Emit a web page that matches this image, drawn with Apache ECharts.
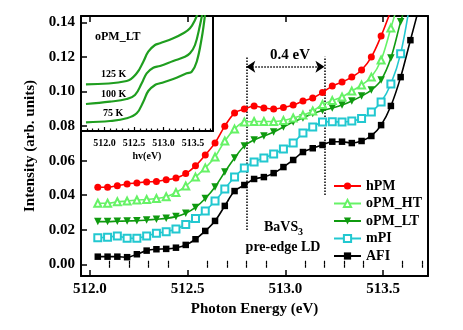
<!DOCTYPE html>
<html><head><meta charset="utf-8">
<script src="https://cdn.jsdelivr.net/npm/echarts@6/dist/echarts.min.js"></script>
<style>html,body{margin:0;padding:0;background:#fff}#c{width:463px;height:330px}</style>
</head><body><div id="c"></div>
<script>
// ---- main panel data (photon energy in eV, intensity in arb. units) ----
const energies = [512.04,512.09,512.14,512.19,512.24,512.29,512.34,512.39,512.44,512.49,
  512.54,512.59,512.64,512.69,512.74,512.79,512.84,512.89,512.94,512.99,
  513.04,513.09,513.14,513.19,513.24,513.29,513.34,513.39,513.44,513.49,
  513.54,513.59,513.64,513.69];
const hPM = [0.0446,0.0446,0.0455,0.0465,0.0471,0.0477,0.0480,0.0489,0.0499,0.0525,
  0.0570,0.0633,0.0703,0.0800,0.0876,0.0899,0.0917,0.0905,0.0899,0.0908,
  0.0922,0.0945,0.0963,0.0995,0.1032,0.1055,0.1084,0.1125,0.1200,0.1322,0.1470];
const oPM_HT = [0.0353,0.0353,0.0362,0.0366,0.0372,0.0375,0.0381,0.0391,0.0416,0.0453,
  0.0505,0.0558,0.0621,0.0714,0.0783,0.0824,0.0827,0.0827,0.0827,0.0833,
  0.0847,0.0864,0.0888,0.0925,0.0948,0.0969,0.1003,0.1038,0.1084,0.1183,0.1368,0.1560];
const oPM_LT = [0.0247,0.0247,0.0249,0.0251,0.0252,0.0256,0.0261,0.0266,0.0276,0.0295,
  0.0329,0.0381,0.0448,0.0534,0.0615,0.0685,0.0720,0.0743,0.0766,0.0795,
  0.0824,0.0847,0.0873,0.0891,0.0905,0.0922,0.0946,0.0974,0.1009,0.1067,0.1195,0.1404,0.1590];
const mPI = [0.0154,0.0156,0.0164,0.0151,0.0151,0.0164,0.0179,0.0189,0.0204,0.0230,
  0.0265,0.0309,0.0366,0.0436,0.0505,0.0558,0.0592,0.0616,0.0639,0.0668,
  0.0702,0.0760,0.0795,0.0824,0.0826,0.0824,0.0830,0.0844,0.0882,0.0940,0.1044,0.1220,0.1530];
const AFI = [0.0044,0.0044,0.0044,0.0041,0.0058,0.0079,0.0087,0.0089,0.0096,0.0112,
  0.0145,0.0193,0.0251,0.0338,0.0424,0.0459,0.0494,0.0505,0.0528,0.0563,
  0.0604,0.0650,0.0672,0.0691,0.0710,0.0710,0.0702,0.0714,0.0743,0.0806,0.0917,0.1084,0.1298,0.1510];
const seriesNames = ['hPM','oPM_HT','oPM_LT','mPI','AFI'];
const xMajor = [512.0,512.5,513.0,513.5];
const xMinor = [512.1,512.2,512.3,512.4,512.6,512.7,512.8,512.9,513.1,513.2,513.3,513.4,513.6,513.7];
const yTicks = [0.00,0.02,0.04,0.06,0.08,0.10,0.12,0.14];
// LD window markers (eV)
const ldWindow = [512.8, 513.2];

// ---- inset data (oPM_LT temperature dependence, arbitrary units) ----
const inset125E = [511.686,512.376,512.546,512.658,512.742,512.856,512.941,513.166,513.336,513.449,513.534,513.590];
const inset125I = [0.467,0.500,0.577,0.693,0.793,0.860,0.877,0.927,0.977,1.027,1.110,1.193];
const inset100E = [511.686,512.093,512.376,512.517,512.631,512.715,512.827,512.941,513.166,513.364,513.449,513.534,513.619,513.664];
const inset100I = [0.270,0.293,0.320,0.360,0.477,0.577,0.633,0.650,0.700,0.743,0.777,0.860,1.060,1.193];
const inset75E = [511.686,512.093,512.376,512.546,512.658,512.742,512.856,512.941,513.166,513.393,513.478,513.563,513.647,513.703];
const inset75I = [0.087,0.100,0.127,0.177,0.293,0.400,0.460,0.477,0.520,0.577,0.593,0.693,0.927,1.160];
const insetMajor = [512.0,512.5,513.0,513.5];
const insetMinor = [511.7,511.8,511.9,512.1,512.2,512.3,512.4,512.6,512.7,512.8,512.9,513.1,513.2,513.3,513.4,513.6,513.7,513.8];

const FONT = '"Liberation Serif", "Times New Roman", serif';
const pairs = (xs, ys) => ys.map((v, i) => [xs[i], v]);

const chart = echarts.init(document.getElementById('c'), null, {renderer: 'canvas'});

function minorAxis(grid, pos, min, max, vals, len) {
  return {gridIndex: grid, type: 'value', position: pos, min: min, max: max,
    axisLine: {show: false}, splitLine: {show: false}, axisLabel: {show: false},
    axisTick: {show: true, inside: true, length: len, customValues: vals, lineStyle: {color: '#000', width: 1.2}}};
}

const XMIN = 511.954, XMAX = 513.73, YMIN = -0.0068, YMAX = 0.1438;
const IXMIN = 511.602, IXMAX = 513.839;

const mainStyle = [
  {color: '#ff0000', symbol: 'circle', size: 7},
  {color: '#66f266', symbol: 'emptyTriangle', size: 7},
  {color: '#0f9a0f', symbol: 'triangle', size: 7.5, rotate: 180},
  {color: '#22c8d0', symbol: 'emptyRect', size: 7},
  {color: '#000000', symbol: 'rect', size: 6.5}
];
const mainData = [hPM, oPM_HT, oPM_LT, mPI, AFI];

const series = mainData.map((vals, i) => {
  const st = mainStyle[i];
  return {
    name: seriesNames[i], type: 'line', xAxisIndex: 0, yAxisIndex: 0,
    data: pairs(energies, vals), smooth: 0.35,
    symbol: st.symbol, symbolSize: st.size, symbolRotate: st.rotate || 0,
    showAllSymbol: true, clip: true,
    lineStyle: {color: st.color, width: 1.6},
    itemStyle: {color: st.color, borderColor: st.color, borderWidth: st.symbol.startsWith('empty') ? 1.1 : 0},
    z: 10 - i
  };
});
series[0].markLine = {
  silent: true, animation: false, symbol: ['none', 'none'], symbolSize: 9,
  label: {show: false},
  lineStyle: {type: 'dotted', color: '#000', width: 1.5},
  data: [
    [{coord: [ldWindow[0], 0.0199]}, {coord: [ldWindow[0], 0.1202]}],
    [{coord: [ldWindow[1], 0.0401]}, {coord: [ldWindow[1], 0.1202]}],
    [{coord: [ldWindow[0], 0.1144], symbol: 'arrow'}, {coord: [ldWindow[1], 0.1144], symbol: 'arrow'}]
  ]
};

const insetSets = [[inset125E, inset125I], [inset100E, inset100I], [inset75E, inset75I]];
insetSets.forEach(([xs, ys]) => {
  series.push({type: 'line', xAxisIndex: 4, yAxisIndex: 2, data: pairs(xs, ys), smooth: 0.4,
    symbol: 'none', clip: true, lineStyle: {color: '#1f9e1f', width: 2.2}});
});

const tickLbl = {fontFamily: FONT, fontWeight: 'bold', fontSize: 15, color: '#000'};

chart.setOption({
  animation: false,
  backgroundColor: '#fff',
  grid: [
    {left: 81, top: 16, right: 35, bottom: 54, show: false},
    {left: 81, top: 16, width: 132, height: 115, show: false}
  ],
  legend: {
    data: seriesNames, orient: 'vertical', left: 333, top: 179, padding: 0,
    itemWidth: 27, itemHeight: 9, itemGap: 3.5,
    textStyle: {fontFamily: FONT, fontWeight: 'bold', fontSize: 14, color: '#000'}
  },
  xAxis: [
    {gridIndex: 0, type: 'value', position: 'bottom', min: XMIN, max: XMAX,
      axisLine: {show: true, onZero: false, lineStyle: {color: '#000', width: 2}},
      axisTick: {show: true, inside: true, length: 6, customValues: xMajor, lineStyle: {color: '#000', width: 1.5}},
      axisLabel: Object.assign({show: true, margin: 6, customValues: xMajor, formatter: v => v.toFixed(1)}, tickLbl),
      splitLine: {show: false},
      name: 'Photon Energy (eV)', nameLocation: 'middle', nameGap: 26,
      nameTextStyle: {fontFamily: FONT, fontWeight: 'bold', fontSize: 15, color: '#000'}},
    minorAxis(0, 'bottom', XMIN, XMAX, xMinor, 3.5),
    {gridIndex: 0, type: 'value', position: 'top', min: XMIN, max: XMAX,
      axisLine: {show: true, onZero: false, lineStyle: {color: '#000', width: 2}},
      axisTick: {show: true, inside: true, length: 6, customValues: xMajor, lineStyle: {color: '#000', width: 1.5}},
      axisLabel: {show: false}, splitLine: {show: false}},
    minorAxis(0, 'top', XMIN, XMAX, xMinor, 3.5),
    {gridIndex: 1, type: 'value', position: 'bottom', min: IXMIN, max: IXMAX,
      axisLine: {show: true, onZero: false, lineStyle: {color: '#000', width: 2}},
      axisTick: {show: true, inside: true, length: 4, customValues: insetMajor, lineStyle: {color: '#000', width: 1.2}},
      axisLabel: {show: true, margin: 7, customValues: insetMajor, formatter: v => v.toFixed(1),
        fontFamily: FONT, fontWeight: 'bold', fontSize: 10, color: '#000'},
      splitLine: {show: false},
      name: 'hv(eV)', nameLocation: 'middle', nameGap: 20,
      nameTextStyle: {fontFamily: FONT, fontWeight: 'bold', fontSize: 10, color: '#000'}},
    minorAxis(1, 'bottom', IXMIN, IXMAX, insetMinor, 2.5)
  ],
  yAxis: [
    {gridIndex: 0, type: 'value', position: 'left', min: YMIN, max: YMAX,
      axisLine: {show: true, onZero: false, lineStyle: {color: '#000', width: 2}},
      axisTick: {show: true, inside: true, length: 6, customValues: yTicks, lineStyle: {color: '#000', width: 1.5}},
      axisLabel: Object.assign({show: true, margin: 6, customValues: yTicks, formatter: v => v.toFixed(2)}, tickLbl),
      splitLine: {show: false},
      name: 'Intensity (arb. units)', nameLocation: 'middle', nameGap: 36,
      nameTextStyle: {fontFamily: FONT, fontWeight: 'bold', fontSize: 15, color: '#000'}},
    {gridIndex: 0, type: 'value', position: 'right', min: YMIN, max: YMAX,
      axisLine: {show: true, onZero: false, lineStyle: {color: '#000', width: 2}},
      axisTick: {show: false}, axisLabel: {show: false}, splitLine: {show: false}},
    {gridIndex: 1, type: 'value', position: 'left', min: 0, max: 1.15,
      axisLine: {show: false}, axisTick: {show: false}, axisLabel: {show: false}, splitLine: {show: false}},
    {gridIndex: 1, type: 'value', position: 'right', min: 0, max: 1.15,
      axisLine: {show: true, onZero: false, lineStyle: {color: '#000', width: 2}},
      axisTick: {show: false}, axisLabel: {show: false}, splitLine: {show: false}}
  ],
  graphic: [
    {type: 'text', x: 290, y: 55, style: {text: '0.4 eV', font: 'bold 15px ' + FONT, fill: '#000', align: 'center', verticalAlign: 'middle'}},
    {type: 'text', x: 264, y: 227, style: {text: 'BaVS', font: 'bold 14px ' + FONT, fill: '#000', align: 'left', verticalAlign: 'middle'}},
    {type: 'text', x: 298, y: 232, style: {text: '3', font: 'bold 10px ' + FONT, fill: '#000', align: 'left', verticalAlign: 'middle'}},
    {type: 'text', x: 283, y: 247, style: {text: 'pre-edge LD', font: 'bold 14px ' + FONT, fill: '#000', align: 'center', verticalAlign: 'middle'}},
    {type: 'text', x: 95, y: 37, style: {text: 'oPM_LT', font: 'bold 12px ' + FONT, fill: '#000', align: 'left', verticalAlign: 'middle'}},
    {type: 'text', x: 101, y: 74, style: {text: '125 K', font: 'bold 10px ' + FONT, fill: '#000', align: 'left', verticalAlign: 'middle'}},
    {type: 'text', x: 101, y: 94, style: {text: '100 K', font: 'bold 10px ' + FONT, fill: '#000', align: 'left', verticalAlign: 'middle'}},
    {type: 'text', x: 103, y: 113, style: {text: '75 K', font: 'bold 10px ' + FONT, fill: '#000', align: 'left', verticalAlign: 'middle'}}
  ],
  series: series
});
</script>
</body></html>
